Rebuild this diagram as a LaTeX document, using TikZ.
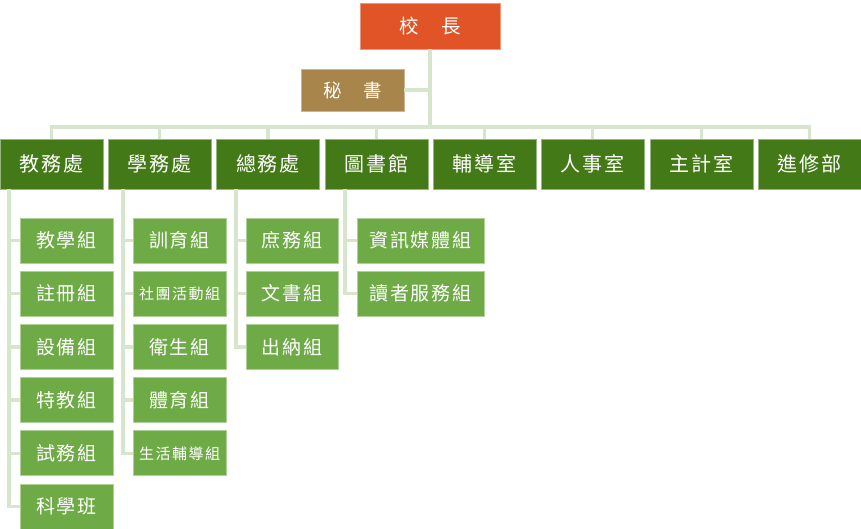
\documentclass[tikz,border=0pt]{standalone}
\usepackage{fontspec}
\newfontfamily\cjk[LetterSpace=8]{Noto Sans CJK TC}
\newfontfamily\cjksmall[LetterSpace=10]{Noto Sans CJK TC}
\definecolor{princ}{HTML}{E05428}
\definecolor{secr}{HTML}{A8864B}
\definecolor{dept}{HTML}{437A17}
\definecolor{subc}{HTML}{6EAA46}
\definecolor{conn}{HTML}{D7E5CC}
\begin{document}
\begin{tikzpicture}[x=1pt,y=-1pt,
  boxbase/.style={inner sep=0pt, outer sep=0pt, text=white, line width=0.8pt, align=center},
  princbox/.style={boxbase, fill=princ, draw=princ!60!white, minimum width=140pt, minimum height=46pt, font=\cjk\fontsize{19.5}{19.5}\selectfont},
  secrbox/.style={boxbase, fill=secr, draw=secr!60!white, minimum width=103pt, minimum height=42pt, font=\cjk\fontsize{18.5}{18.5}\selectfont},
  deptbox/.style={boxbase, fill=dept, draw=dept!55!white, minimum width=103pt, minimum height=50pt, font=\cjk\fontsize{20}{20}\selectfont},
  subbox/.style={boxbase, fill=subc, draw=subc!55!white, minimum height=45pt, anchor=west, font=\cjk\fontsize{19}{19}\selectfont},
  subsmall/.style={font=\cjksmall\fontsize{15}{15}\selectfont},
  connline/.style={draw=conn, line width=3.5pt}]
\useasboundingbox (0,0) rectangle (861,528);

% top
\node[princbox] (p) at (430,26) {校　長};
\node[secrbox] (s) at (352.5,90) {秘　書};

% departments
\node[deptbox] (d1) at (51.5,164) {教務處};
\node[deptbox] (d2) at (159.5,164) {學務處};
\node[deptbox] (d3) at (268,164) {總務處};
\node[deptbox] (d4) at (376.5,164) {圖書館};
\node[deptbox] (d5) at (484.5,164) {輔導室};
\node[deptbox] (d6) at (592.5,164) {人事室};
\node[deptbox] (d7) at (701.5,164) {主計室};
\node[deptbox] (d8) at (809.5,164) {進修部};

% sub units column 1
\node[subbox, minimum width=93pt] (a1) at (20,240.5) {教學組};
\node[subbox, minimum width=93pt] (a2) at (20,293.7) {註冊組};
\node[subbox, minimum width=93pt] (a3) at (20,346.9) {設備組};
\node[subbox, minimum width=93pt] (a4) at (20,400.1) {特教組};
\node[subbox, minimum width=93pt] (a5) at (20,453.3) {試務組};
\node[subbox, minimum width=93pt] (a6) at (20,506.5) {科學班};
% column 2
\node[subbox, minimum width=93pt] (b1) at (133,240.5) {訓育組};
\node[subbox, subsmall, minimum width=93pt] (b2) at (133,293.7) {社團活動組};
\node[subbox, minimum width=93pt] (b3) at (133,346.9) {衛生組};
\node[subbox, minimum width=93pt] (b4) at (133,400.1) {體育組};
\node[subbox, subsmall, minimum width=93pt] (b5) at (133,453.3) {生活輔導組};
% column 3
\node[subbox, minimum width=92pt] (c1) at (246,240.5) {庶務組};
\node[subbox, minimum width=92pt] (c2) at (246,293.7) {文書組};
\node[subbox, minimum width=92pt] (c3) at (246,346.9) {出納組};
% column 4
\node[subbox, minimum width=127pt] (e1) at (357,240.5) {資訊媒體組};
\node[subbox, minimum width=127pt] (e2) at (357,293.7) {讀者服務組};

% connectors
\coordinate (bus) at (430,127);
\draw[connline] (p.south) -- (bus);
\draw[connline] (s.east) -- (s.east -| p.south);
\draw[connline] (d1.north) |- (bus) -| (d8.north);
\foreach \k in {2,...,7} \draw[connline] (d\k.north) -- (d\k.north |- bus);

\coordinate (t1) at (9,189.4);
\coordinate (t2) at (123,189.4);
\coordinate (t3) at (236,189.4);
\coordinate (t4) at (345,189.4);

\draw[connline] (t1) |- (a6.west);
\foreach \k in {1,...,5} \draw[connline] (a\k.west) -- (a\k.west -| t1);
\draw[connline] (t2) |- (b5.west);
\foreach \k in {1,...,4} \draw[connline] (b\k.west) -- (b\k.west -| t2);
\draw[connline] (t3) |- (c3.west);
\foreach \k in {1,2} \draw[connline] (c\k.west) -- (c\k.west -| t3);
\draw[connline] (t4) |- (e2.west);
\draw[connline] (e1.west) -- (e1.west -| t4);
\end{tikzpicture}
\end{document}
